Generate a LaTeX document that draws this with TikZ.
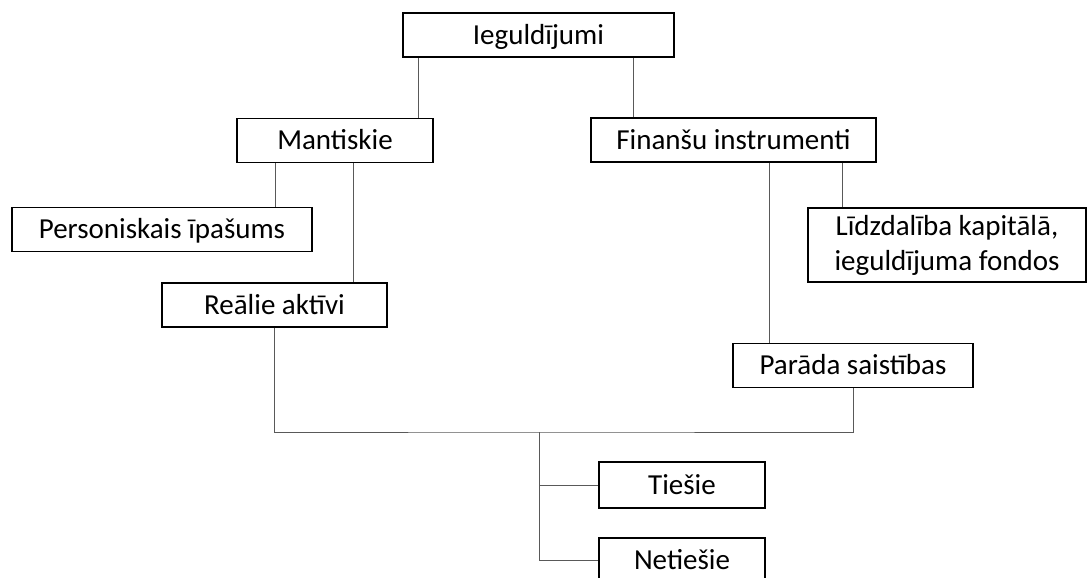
\documentclass[tikz,border=0pt]{standalone}
\usepackage{fontspec}
\setmainfont{Carlito}
\begin{document}
\begin{tikzpicture}[x=1pt,y=-1pt,
  box/.style={draw=black,line width=1.6pt,fill=white,inner sep=0pt,
    font=\fontsize{29}{35}\selectfont,text height=18.7pt,text depth=0pt,
    minimum height=#1},
  box/.default=44pt,
  conn/.style={draw=black!65,line width=1pt}]
\useasboundingbox (0,0) rectangle (1087,578);
\clip (0,0) rectangle (1087,578);
\fill[white] (0,0) rectangle (1087,578);
% nodes
\node[box,minimum width=271pt] (top) at (538.5,35) {Ieguldījumi};
\node[box,minimum width=196pt] (mant) at (335,140.5) {Mantiskie};
\node[box,minimum width=285pt] (fin) at (733.5,140) {Finanšu instrumenti};
\node[box,minimum width=300pt] (pers) at (162,229.5) {Personiskais īpašums};
\node[box,minimum width=225pt] (real) at (274.5,305) {Reālie aktīvi};
\node[draw=black,line width=1.6pt,fill=white,inner sep=0pt,align=center,
  font=\fontsize{29}{35}\selectfont,minimum width=278pt,minimum height=74pt]
  (lidz) at (947,245) {Līdzdalība kapitālā,\\ieguldījuma fondos};
\node[box,minimum width=240pt] (parada) at (853,365.5) {Parāda saistības};
\node[box,minimum width=166pt,minimum height=46pt] (ties) at (682,485) {Tiešie};
\node[box,minimum width=166pt,minimum height=45pt] (neties) at (682,560.5) {Netiešie};
% helper x positions
\coordinate (xa) at (418,0);
\coordinate (xb) at (633,0);
\coordinate (xc) at (275,0);
\coordinate (xd) at (353,0);
\coordinate (xe) at (842,0);
\coordinate (xf) at (769,0);
\coordinate (bus) at (539,432);
% connectors
\draw[conn] (top.south -| xa) -- (mant.north -| xa);
\draw[conn] (top.south -| xb) -- (fin.north -| xb);
\draw[conn] (mant.south -| xc) -- (pers.north -| xc);
\draw[conn] (mant.south -| xd) -- (real.north -| xd);
\draw[conn] (fin.south -| xe) -- (lidz.north -| xe);
\draw[conn] (fin.south -| xf) -- (parada.north -| xf);
\draw[conn] (real.south) |- (bus) -| (parada.south);
\draw[conn] (bus) |- (ties.west);
\draw[conn] (bus) |- (neties.west);
\end{tikzpicture}
\end{document}
